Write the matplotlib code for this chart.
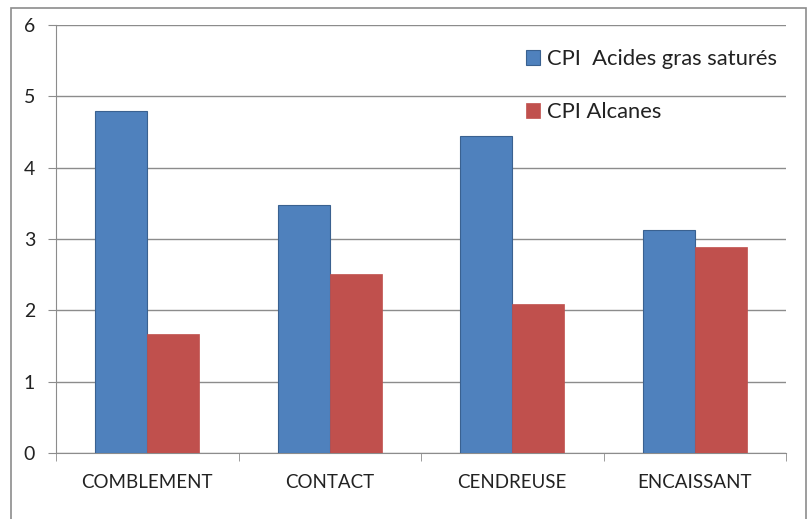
import matplotlib.pyplot as plt
import matplotlib.patches as patches
import numpy as np

# donnees
categories = ['COMBLEMENT', 'CONTACT', 'CENDREUSE', 'ENCAISSANT']
cpi_acides = [4.79, 3.47, 4.44, 3.12]
cpi_alcanes = [1.67, 2.51, 2.09, 2.89]
labels = ['CPI  Acides gras saturés', 'CPI Alcanes']

plt.rcParams['font.family'] = ['Lato', 'DejaVu Sans']

fig = plt.figure(figsize=(8.09, 5.19), dpi=100)
ax = fig.add_axes([56/809, 1-453/519, 730/809, 428/519])

x = np.arange(len(categories))
w = 0.286
ax.bar(x - w/2, cpi_acides, w, color='#4F81BD', edgecolor='#3A6190', linewidth=0.8,
       label=labels[0], zorder=3)
ax.bar(x + w/2, cpi_alcanes, w, color='#C0504D', edgecolor='#C0504D', linewidth=0.5,
       label=labels[1], zorder=3)

ax.set_xlim(-0.5, len(categories) - 0.5)
ax.set_ylim(0, 6)
ax.set_yticks(range(7))
ax.set_yticklabels([str(i) for i in range(7)], fontsize=14, color='#222222')
ax.yaxis.grid(True, color='#8c8c8c', linewidth=1.0, zorder=0)

ax.set_xticks(x)
ax.set_xticklabels(categories, fontsize=13.5, color='#222222')
ax.set_xticks(np.arange(-0.5, len(categories)), minor=True)
ax.tick_params(axis='x', which='major', length=0, pad=15)
ax.tick_params(axis='x', which='minor', length=6, color='#8c8c8c', direction='out')
ax.tick_params(axis='y', length=6, color='#8c8c8c', pad=9)

for s in ['top', 'right']:
    ax.spines[s].set_visible(False)
ax.spines['left'].set_color('#8c8c8c')
ax.spines['bottom'].set_color('#8c8c8c')

leg = ax.legend(loc='upper left', bbox_to_anchor=(0.617, 0.99), frameon=False,
                fontsize=15.8, labelspacing=1.5, handlelength=0.65, handleheight=0.65,
                handletextpad=0.3)
for t in leg.get_texts():
    t.set_color('#222222')

# cadre du graphique
fig.patches.append(patches.Rectangle((11/809, -0.05), 795/809, 1.05 - 8/519,
                                     transform=fig.transFigure, fill=False,
                                     edgecolor='#8c8c8c', linewidth=1.2))

fig.savefig('out.png', dpi=100)
